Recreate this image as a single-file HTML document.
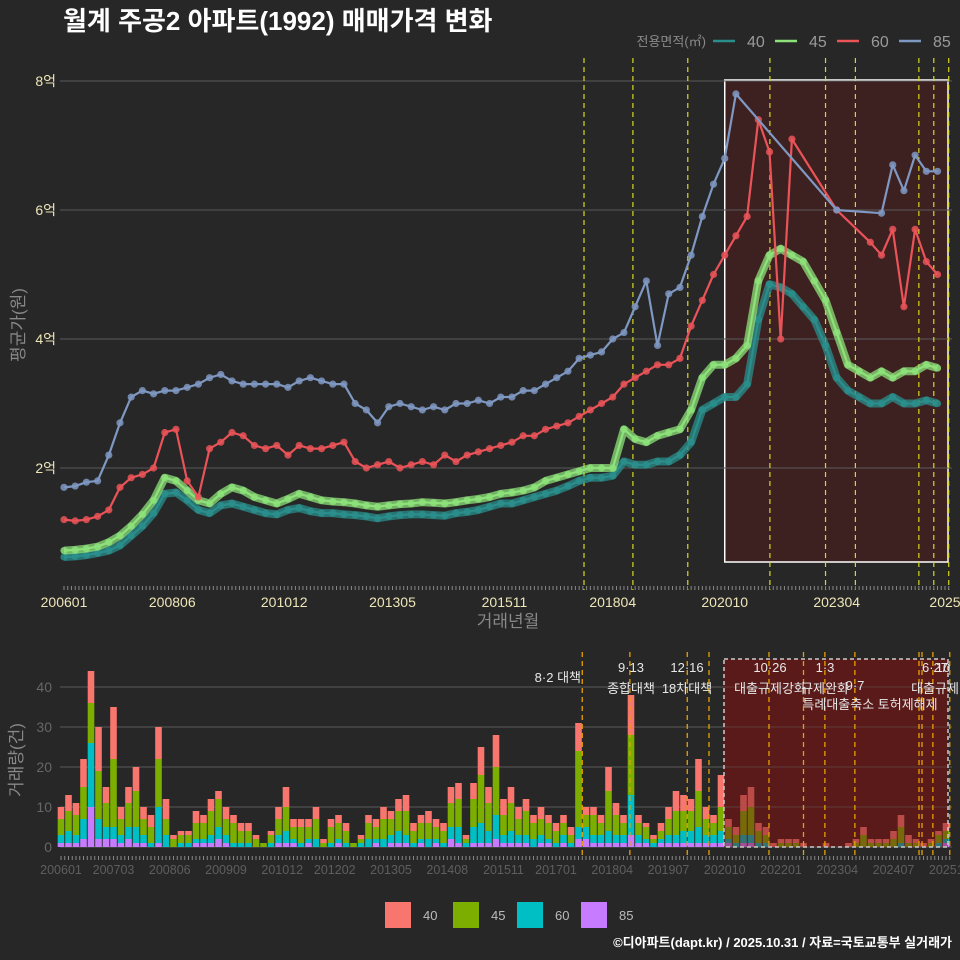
<!DOCTYPE html>
<html><head><meta charset="utf-8">
<style>
html,body{margin:0;padding:0;background:#272727;}
svg{display:block;font-family:"Liberation Sans","Noto Sans CJK KR",sans-serif;}
</style></head>
<body>
<svg id="chart" width="960" height="960" viewBox="0 0 960 960" xmlns="http://www.w3.org/2000/svg">
<rect x="0" y="0" width="960" height="960" fill="#272727"/>
<text x="63" y="30" fill="#ffffff" font-size="26" font-weight="bold">월계 주공2 아파트(1992) 매매가격 변화</text>
<g id="legendTop">
<text x="706" y="46" fill="#8a8a8a" font-size="13" text-anchor="end">전용면적(㎡)</text>
</g>
<g id="topPanel"></g>
<g id="botPanel"></g>
<g id="legendBot"></g>
<text x="952" y="947" fill="#ffffff" font-size="13" font-weight="bold" text-anchor="end">©디아파트(dapt.kr) / 2025.10.31 / 자료=국토교통부 실거래가</text>
</svg>
<script>
// ---------- price data (quarterly, unit: 억, starting 2006-01) ----------
const priceMonthStep = 3;
const price40 = [.62,.63,.65,.68, .72,.8,.95,1.1, 1.3,1.6,1.62,1.5, 1.35,1.3,1.42,1.45, 1.4,1.35,1.3,1.28, 1.35,1.38,1.33,1.3, 1.3,1.28,1.27,1.25, 1.22,1.25,1.27,1.28, 1.28,1.27,1.26,1.3, 1.32,1.35,1.4,1.45, 1.45,1.5,1.55,1.6, 1.65,1.72,1.8,1.85, 1.85,1.88,2.1,2.05, 2.05,2.1,2.1,2.2, 2.4,2.9,3.0,3.1, 3.1,3.3,4.3,4.85, 4.8,4.7,4.5,4.3, 3.9,3.4,3.2,3.1, 3.0,3.0,3.1,3.0, 3.0,3.05,3.0];
const price45 = [.72,.73,.75,.78, .85,.95,1.1,1.28, 1.5,1.85,1.8,1.65, 1.5,1.45,1.6,1.7, 1.65,1.55,1.5,1.45, 1.52,1.6,1.55,1.5, 1.48,1.47,1.45,1.42, 1.4,1.42,1.44,1.45, 1.47,1.46,1.45,1.47, 1.5,1.52,1.55,1.6, 1.62,1.65,1.7,1.8, 1.85,1.9,1.95,2.0, 2.0,2.0,2.6,2.45, 2.4,2.5,2.55,2.6, 2.9,3.4,3.6,3.6, 3.7,3.9,4.9,5.3, 5.4,5.3,5.2,4.9, 4.6,4.1,3.6,3.5, 3.4,3.5,3.4,3.5, 3.5,3.6,3.55];
const price60 = [1.2,1.18,1.2,1.25, 1.35,1.7,1.85,1.9, 2.0,2.55,2.6,1.8, 1.55,2.3,2.4,2.55, 2.5,2.35,2.3,2.35, 2.2,2.35,2.3,2.3, 2.35,2.4,2.1,2.0, 2.05,2.1,2.0,2.05, 2.1,2.05,2.2,2.1, 2.2,2.25,2.3,2.35, 2.4,2.5,2.5,2.6, 2.65,2.7,2.8,2.9, 3.0,3.1,3.3,3.4, 3.5,3.6,3.6,3.7, 4.2,4.6,5.0,5.3, 5.6,5.9,7.4,6.9, 4.0,7.1,null,null, null,6.0,null,null, 5.5,5.3,5.7,4.5, 5.7,5.2,5.0];
const price85 = [1.7,1.72,1.78,1.8, 2.2,2.7,3.1,3.2, 3.15,3.2,3.2,3.25, 3.3,3.4,3.45,3.35, 3.3,3.3,3.3,3.3, 3.25,3.35,3.4,3.35, 3.3,3.3,3.0,2.9, 2.7,2.95,3.0,2.95, 2.9,2.95,2.9,3.0, 3.0,3.05,3.0,3.1, 3.1,3.2,3.2,3.3, 3.4,3.5,3.7,3.75, 3.8,4.0,4.1,4.5, 4.9,3.9,4.7,4.8, 5.3,5.9,6.4,6.8, 7.8,null,null,null, null,null,null,null, null,6.0,null,null, null,5.95,6.7,6.3, 6.85,6.6,6.6];
const priceTicks = [2,4,6,8];
const priceTickLabels = ["2억","4억","6억","8억"];
const xTickMonths = [0,29,59,88,118,147,177,207,236];
const xTickLabels = ["200601","200806","201012","201305","201511","201804","202010","202304","2025"];
const policyMonthsTop = [139.3,152.4,167.1,189.1,204,212,229,233,237];

// ---------- volume data (bimonthly, starting 2006-01) ----------
const volMonthStep = 2;
const vol85 = [1,1,1,2,10,2,2,2,1,2,1,1,0,1,0,0,0,0,1,1,1,2,1,0,0,0,0,0,0,1,1,1,0,1,0,0,0,1,0,0,0,0,1,0,1,1,1,0,1,0,1,0,2,1,0,1,1,1,2,1,1,1,1,0,1,1,0,1,0,2,2,1,1,1,1,1,3,1,1,0,1,1,1,1,1,1,1,1,1,1,0,1,1,0,0,0,0,0,0,0,0,0,0,0,0,0,0,0,0,0,0,0,0,0,0,0,0,0,1];
const vol60 = [2,3,2,5,16,5,3,3,2,3,4,2,1,9,3,0,1,1,1,1,2,3,2,1,1,1,0,0,1,2,3,1,1,1,2,0,1,1,1,0,1,2,1,2,2,3,2,1,1,2,1,1,3,4,1,4,5,3,6,2,3,2,2,2,2,1,1,2,1,3,3,2,2,3,2,2,10,2,1,1,1,2,2,3,3,4,2,2,3,1,1,2,2,1,1,0,0,0,0,0,0,0,0,0,0,0,0,0,0,0,0,0,1,0,0,0,0,1,1];
const vol45 = [4,5,5,8,10,12,6,17,4,6,9,4,4,12,4,2,2,2,4,4,6,7,4,5,3,3,2,1,2,4,6,3,4,3,5,1,4,4,3,1,1,4,3,5,4,5,6,3,4,4,3,3,6,7,1,7,12,7,12,5,7,4,6,4,4,4,3,3,2,19,3,5,3,10,5,3,15,3,3,1,2,4,6,5,5,9,4,3,6,3,2,6,7,3,2,0,1,1,1,0,0,0,0,0,0,0,1,3,1,1,1,2,4,1,1,0,1,2,2];
const vol40 = [3,4,3,7,8,11,4,13,3,4,6,3,3,8,5,1,1,1,3,2,3,2,3,2,2,2,1,0,1,3,5,2,2,2,3,1,2,2,2,0,1,2,2,3,2,3,4,2,2,3,2,2,4,4,1,4,7,4,8,4,4,3,3,2,3,2,2,2,2,7,2,2,2,6,3,2,10,2,1,1,2,3,5,4,3,8,3,2,8,2,2,4,5,2,2,1,1,1,1,1,0,0,1,0,0,1,1,2,1,1,1,2,3,2,1,1,1,1,2];
const volTicks = [0,10,20,30,40];
const botTickMonths = [0,14,29,44,59,73,88,103,118,132,147,162,177,192,207,222,237];
const botTickLabels = ["200601","200703","200806","200909","201012","201202","201305","201408","201511","201701","201804","201907","202010","202201","202304","202407","202510"];
const policyMonthsBot = [139,151.7,167,172.8,188.8,198,203.7,211.7,228.8,229.6,232.5,237];
const policyLabels = ["8·2 대책","9·13","종합대책","12·16","18차대책","10·26","대출규제강화","1·3","규제완화","9·7","특례대출축소 토허제해제","6·27","10","대출규제"];

const NS = "http://www.w3.org/2000/svg";
function mk(tag, attrs, parent){const e=document.createElementNS(NS,tag);for(const k in attrs)e.setAttribute(k,attrs[k]);parent.appendChild(e);return e;}

// top axes
const xT = m => 64 + m*3.733;
const yT = v => 597 - v*64.5;
const topG = document.getElementById('topPanel');
let box = mk('rect',{x:xT(177),y:80,width:948-xT(177),height:482,fill:'#3d2121',stroke:'#ffffff','stroke-width':1.5},topG);


priceTicks.forEach((v,i)=>{
  let g = mk('line',{x1:60,x2:952,y1:yT(v),y2:yT(v),stroke:'#5a5a5a','stroke-width':1},topG);
  
  
  let t = mk('text',{x:56,y:yT(v)+5,fill:'#eee6b8','font-size':14,'text-anchor':'end'},topG);
  t.textContent = priceTickLabels[i];
  
  
});
policyMonthsTop.forEach(m=>{
  let l = mk('line',{x1:xT(m),x2:xT(m),y1:58,y2:590,stroke:'#d8d820','stroke-width':1.2,'stroke-dasharray':'5,4'},topG);
  
  
});
for(let m=0;m<=237;m++){
  let tk = mk('line',{x1:xT(m),x2:xT(m),y1:586,y2:590,stroke:'#888','stroke-width':1},topG);
  
  
}
xTickMonths.forEach((m,i)=>{
  let t = mk('text',{x:xT(m),y:607,fill:'#eee6b8','font-size':14,'text-anchor':'middle'},topG);
  t.textContent = xTickLabels[i];
  
  
});
let xt = mk('text',{x:508,y:627,fill:'#888','font-size':17,'text-anchor':'middle'},topG);
xt.textContent='거래년월';


let yt = mk('text',{x:0,y:0,fill:'#888','font-size':17,'text-anchor':'middle',transform:'translate(24,325) rotate(-90)'},topG);
yt.textContent='평균가(원)';



const seriesDefs = [
  {name:'40',data:price40,color:'#2a8f8c',band:8},
  {name:'45',data:price45,color:'#8de27a',band:8},
  {name:'60',data:price60,color:'#ea5358',band:0},
  {name:'85',data:price85,color:'#7f98c2',band:0}
];
seriesDefs.forEach(s=>{
  let cur=[];
  s.data.forEach((v,i)=>{ if(v!==null) cur.push([xT(i*priceMonthStep),yT(v)]); });
  const d = cur.map((p,i)=>(i?'L':'M')+p[0].toFixed(1)+','+p[1].toFixed(1)).join(' ');
  if(s.band){
    let b = mk('path',{d:d,fill:'none',stroke:s.color,'stroke-width':s.band,'stroke-opacity':0.75,'stroke-linejoin':'round'},topG);
    
    
  }
  let p = mk('path',{d:d,fill:'none',stroke:s.color,'stroke-width':2.2,'stroke-linejoin':'round'},topG);
  
  
  cur.forEach(pt=>{
    let c = mk('circle',{cx:pt[0],cy:pt[1],r:3.6,fill:s.color,'fill-opacity':0.85},topG);
    
    
  });
});
const lg = document.getElementById('legendTop');
[['40','#2a8f8c',713],['45','#8de27a',775],['60','#ea5358',837],['85','#7f98c2',899]].forEach(e=>{
  let l = mk('line',{x1:e[2],x2:e[2]+22,y1:41,y2:41,stroke:e[1],'stroke-width':2.5},lg);
  
  
  let t = mk('text',{x:e[2]+34,y:47,fill:'#9a9a9a','font-size':16},lg);
  t.textContent=e[0];
  
  
});

// bottom axes
const xB = m => 61 + m*3.75;
const yB = v => 847 - v*4;
const botG = document.getElementById('botPanel');
let bbox = mk('rect',{x:724,y:659,width:224,height:188,fill:'#4a1c1c'},botG);


volTicks.forEach(v=>{
  let g = mk('line',{x1:60,x2:952,y1:yB(v),y2:yB(v),stroke:'#5a5a5a','stroke-width':1},botG);
  
  
  let t = mk('text',{x:52,y:yB(v)+5,fill:'#666','font-size':14,'text-anchor':'end'},botG);
  t.textContent = v;
  
  
});
const stackDefs = [[vol85,'#c77cff','85'],[vol60,'#00bfc4','60'],[vol45,'#7cae00','45'],[vol40,'#f8766d','40']];
for(let i=0;i<vol40.length;i++){
  let base=0;
  stackDefs.forEach(sd=>{
    const v = sd[0][i];
    if(v>0){
      let r = mk('rect',{x:xB(i*volMonthStep)-3.3,y:yB(base+v),width:6.6,height:v*4,fill:sd[1]},botG);
      
      
    }
    base+=v;
  });
}
let ov = mk('rect',{x:724,y:659,width:224,height:188,fill:'rgba(110,25,25,0.45)',stroke:'#cccccc','stroke-width':1.5,'stroke-dasharray':'4,3'},botG);


policyMonthsBot.forEach(m=>{
  let l = mk('line',{x1:xB(m),x2:xB(m),y1:652,y2:857,stroke:'#e8a000','stroke-width':1.3,'stroke-dasharray':'5,4'},botG);
  
  
});
for(let m=0;m<=237;m++){
  let tk = mk('line',{x1:xB(m),x2:xB(m),y1:856,y2:860,stroke:'#888','stroke-width':1},botG);
  
  
}
botTickMonths.forEach((m,i)=>{
  let t = mk('text',{x:xB(m),y:874,fill:'#5e5e5e','font-size':12.5,'text-anchor':'middle'},botG);
  t.textContent = botTickLabels[i];
  
  
});
let yt2 = mk('text',{x:0,y:0,fill:'#888','font-size':17,'text-anchor':'middle',transform:'translate(22,760) rotate(-90)'},botG);
yt2.textContent='거래량(건)';


const labelPos = [[581,682,'end'],[631,672,'middle'],[631,693,'middle'],[687,672,'middle'],[687,693,'middle'],[770,672,'middle'],[770,693,'middle'],[825,672,'middle'],[825,693,'middle'],[855,690,'middle'],[870,709,'middle'],[935,672,'middle'],[943,672,'middle'],[935,693,'middle']];
policyLabels.forEach((s,i)=>{
  let t = mk('text',{x:labelPos[i][0],y:labelPos[i][1],fill:'#e8e8e8','font-size':13,'text-anchor':labelPos[i][2]},botG);
  t.textContent = s;
  
  
});

const lb = document.getElementById('legendBot');
[['40','#f8766d',385],['45','#7cae00',453],['60','#00bfc4',517],['85','#c77cff',581]].forEach(e=>{
  let r = mk('rect',{x:e[2],y:902,width:26,height:26,fill:e[1]},lb);
  
  
  let t = mk('text',{x:e[2]+38,y:920,fill:'#bbbbbb','font-size':13},lb);
  t.textContent=e[0];
  
  
});
</script>
</body></html>
